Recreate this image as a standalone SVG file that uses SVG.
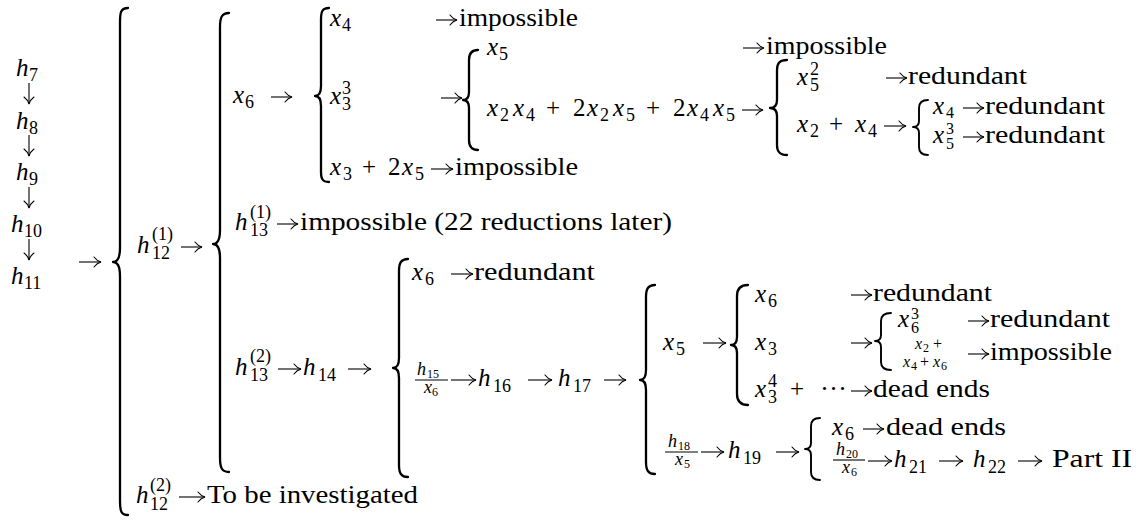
<svg xmlns="http://www.w3.org/2000/svg" width="1147" height="520" viewBox="0 0 1147 520">
<style>
.t{font-family:"Liberation Serif","Times New Roman","DejaVu Serif","Noto Serif",serif;font-size:25px;fill:#000}
.i{font-style:italic}
.s{font-size:18px}
.s2{font-size:16px}
.ss{font-size:12px}
.br{fill:none;stroke:#000;stroke-width:2.3;stroke-linecap:round;stroke-linejoin:round}
.bs{fill:none;stroke:#000;stroke-width:1.9;stroke-linecap:round;stroke-linejoin:round}
.bar{stroke:#000;stroke-width:1.1}
.ar{stroke:#000;stroke-width:1.1;fill:none;marker-end:url(#ah)}
</style>
<defs>
<marker id="ah" markerWidth="10" markerHeight="12" refX="8.5" refY="6" orient="auto" markerUnits="userSpaceOnUse">
<path d="M1.5,1 Q4.5,5 8.5,6 Q4.5,7 1.5,11" fill="none" stroke="#000" stroke-width="1.1" stroke-linecap="round"/>
</marker>
</defs>
<rect width="1147" height="520" fill="#fff"/>
<g id="connectors">
<path class="br" d="M128 8 C121 8 120 12 120 22 L120 248 C120 256 118 262 113 262 C118 262 120 268 120 276 L120 501 C120 511 121 515 128 515"/>
<path class="br" d="M229 13 C222 13 220 17 220 27 L220 230 C220 238 218 244 213 244 C218 244 220 250 220 258 L220 458 C220 468 222 472 229 472"/>
<path class="br" d="M329 8 C322 8 321 12 321 20 L321 86 C321 92 319 96 315 96 C319 96 321 100 321 106 L321 172 C321 178 322 182 329 182"/>
<path class="br" d="M478 50 C471 50 469 54 469 60 L469 92 C469 97 467 100 463 100 C467 100 469 103 469 108 L469 140 C469 146 471 150 478 150"/>
<path class="br" d="M787 60 C779 60 777 64 777 70 L777 100 C777 105 775 108 770 108 C775 108 777 111 777 116 L777 145 C777 151 779 155 787 155"/>
<path class="bs" d="M928 100 C921 100 919 103 919 108 L919 121 C919 125 917 127 913 127 C917 127 919 129 919 133 L919 147 C919 152 921 155 928 155"/>
<path class="br" d="M408 259 C401 259 399 263 399 271 L399 358 C399 364 397 368 393 368 C397 368 399 372 399 378 L399 465 C399 473 401 477 408 477"/>
<path class="br" d="M655 285 C648 285 646 289 646 297 L646 370 C646 376 644 380 640 380 C644 380 646 384 646 390 L646 462 C646 470 648 474 655 474"/>
<path class="br" d="M748 285 C740 285 737 289 737 296 L737 337 C737 342 735 345 731 345 C735 345 737 348 737 353 L737 394 C737 401 740 405 748 405"/>
<path class="bs" d="M891 313 C884 313 881 316 881 321 L881 335 C881 339 879 341 875 341 C879 341 881 343 881 347 L881 362 C881 367 884 370 891 370"/>
<path class="bs" d="M820 418 C813 418 811 421 811 426 L811 443 C811 447 809 449 805 449 C809 449 811 451 811 455 L811 472 C811 477 813 480 820 480"/>
<line class="ar" x1="29" y1="83" x2="29" y2="104"/>
<line class="ar" x1="29" y1="135" x2="29" y2="156"/>
<line class="ar" x1="29" y1="187" x2="29" y2="208"/>
<line class="ar" x1="29" y1="239" x2="29" y2="260"/>
<line class="ar" x1="79" y1="262" x2="101" y2="262"/>
<line class="ar" x1="181" y1="247" x2="202" y2="247"/>
<line class="ar" x1="271" y1="97" x2="292" y2="97"/>
<line class="ar" x1="436" y1="20" x2="457" y2="20"/>
<line class="ar" x1="441" y1="98" x2="462" y2="98"/>
<line class="ar" x1="743" y1="48" x2="764" y2="48"/>
<line class="ar" x1="742" y1="110" x2="763" y2="110"/>
<line class="ar" x1="886" y1="78" x2="907" y2="78"/>
<line class="ar" x1="884" y1="126" x2="906" y2="126"/>
<line class="ar" x1="963" y1="108" x2="984" y2="108"/>
<line class="ar" x1="963" y1="137" x2="984" y2="137"/>
<line class="ar" x1="431" y1="169" x2="453" y2="169"/>
<line class="ar" x1="277" y1="224" x2="298" y2="224"/>
<line class="ar" x1="278" y1="369" x2="301" y2="369"/>
<line class="ar" x1="348" y1="369" x2="371" y2="369"/>
<line class="ar" x1="451" y1="274" x2="473" y2="274"/>
<line class="ar" x1="451" y1="380" x2="476" y2="380"/>
<line class="ar" x1="528" y1="380" x2="552" y2="380"/>
<line class="ar" x1="604" y1="380" x2="626" y2="380"/>
<line class="ar" x1="703" y1="343" x2="726" y2="343"/>
<line class="ar" x1="851" y1="295" x2="872" y2="295"/>
<line class="ar" x1="851" y1="343" x2="872" y2="343"/>
<line class="ar" x1="968" y1="321" x2="989" y2="321"/>
<line class="ar" x1="968" y1="354" x2="989" y2="354"/>
<line class="ar" x1="851" y1="391" x2="872" y2="391"/>
<line class="ar" x1="701" y1="452" x2="724" y2="452"/>
<line class="ar" x1="776" y1="452" x2="799" y2="452"/>
<line class="ar" x1="863" y1="429" x2="884" y2="429"/>
<line class="ar" x1="868" y1="461" x2="892" y2="461"/>
<line class="ar" x1="939" y1="461" x2="963" y2="461"/>
<line class="ar" x1="1018" y1="461" x2="1042" y2="461"/>
<line class="ar" x1="179" y1="497" x2="205" y2="497"/>
</g>
<g id="chain">
<text class="t i" x="16" y="76">h</text><text class="t s" x="29" y="81">7</text>
<text class="t i" x="16" y="129">h</text><text class="t s" x="29" y="134">8</text>
<text class="t i" x="16" y="180">h</text><text class="t s" x="29" y="185">9</text>
<text class="t i" x="11" y="232">h</text><text class="t s" x="24" y="237">10</text>
<text class="t i" x="11" y="284">h</text><text class="t s" x="24" y="289">11</text>
</g>
<g id="h12-1">
<text class="t i" x="137" y="253">h</text><text class="t s" x="152" y="240">(1)</text><text class="t s" x="152" y="259">12</text>
</g>
<g id="x6-branch">
<text class="t i" x="233" y="103">x</text><text class="t s" x="245" y="108">6</text>
</g>
<g id="x4-row">
<text class="t i" x="330" y="26">x</text><text class="t s" x="342" y="31">4</text>
<text class="t" x="459" y="26" textLength="119" lengthAdjust="spacingAndGlyphs">impossible</text>
</g>
<g id="x33-row">
<text class="t i" x="330" y="104">x</text><text class="t s" x="342" y="94">3</text><text class="t s" x="342" y="110">3</text>
</g>
<g id="x5-row">
<text class="t i" x="487" y="55">x</text><text class="t s" x="499" y="60">5</text>
<text class="t" x="766" y="54" textLength="121" lengthAdjust="spacingAndGlyphs">impossible</text>
</g>
<g id="x2x4-row">
<text class="t i" x="487" y="116">x</text><text class="t s" x="500" y="121">2</text>
<text class="t i" x="513" y="116">x</text><text class="t s" x="526" y="121">4</text>
<text class="t" x="546" y="116">+</text>
<text class="t" x="573" y="116">2</text><text class="t i" x="587" y="116">x</text><text class="t s" x="600" y="121">2</text>
<text class="t i" x="613" y="116">x</text><text class="t s" x="626" y="121">5</text>
<text class="t" x="646" y="116">+</text>
<text class="t" x="673" y="116">2</text><text class="t i" x="687" y="116">x</text><text class="t s" x="700" y="121">4</text>
<text class="t i" x="713" y="116">x</text><text class="t s" x="726" y="121">5</text>
</g>
<g id="x52-row">
<text class="t i" x="797" y="85">x</text><text class="t s" x="810" y="75">2</text><text class="t s" x="810" y="91">5</text>
<text class="t" x="908" y="84" textLength="119" lengthAdjust="spacingAndGlyphs">redundant</text>
</g>
<g id="x2x4sum-row">
<text class="t i" x="797" y="132">x</text><text class="t s" x="810" y="137">2</text>
<text class="t" x="829" y="132">+</text>
<text class="t i" x="855" y="132">x</text><text class="t s" x="868" y="137">4</text>
</g>
<g id="x4-red">
<text class="t i" x="933" y="114">x</text><text class="t s2" x="946" y="118">4</text>
<text class="t" x="985" y="114" textLength="120" lengthAdjust="spacingAndGlyphs">redundant</text>
</g>
<g id="x53-red">
<text class="t i" x="933" y="143">x</text><text class="t s2" x="946" y="134">3</text><text class="t s2" x="946" y="149">5</text>
<text class="t" x="985" y="143" textLength="120" lengthAdjust="spacingAndGlyphs">redundant</text>
</g>
<g id="x3-2x5-row">
<text class="t i" x="330" y="175">x</text><text class="t s" x="343" y="180">3</text>
<text class="t" x="362" y="175">+</text>
<text class="t" x="388" y="175">2</text><text class="t i" x="402" y="175">x</text><text class="t s" x="415" y="180">5</text>
<text class="t" x="455" y="175" textLength="123" lengthAdjust="spacingAndGlyphs">impossible</text>
</g>
<g id="h13-1">
<text class="t i" x="235" y="230">h</text><text class="t s" x="250" y="218">(1)</text><text class="t s" x="250" y="236">13</text>
<text class="t" x="300" y="230" textLength="372" lengthAdjust="spacingAndGlyphs">impossible (22 reductions later)</text>
</g>
<g id="h13-2">
<text class="t i" x="235" y="375">h</text><text class="t s" x="250" y="362">(2)</text><text class="t s" x="250" y="381">13</text>
<text class="t i" x="303" y="375">h</text><text class="t s" x="318" y="381">14</text>
</g>
<g id="x6-redundant">
<text class="t i" x="412" y="280">x</text><text class="t s" x="425" y="285">6</text>
<text class="t" x="474" y="280" textLength="121" lengthAdjust="spacingAndGlyphs">redundant</text>
</g>
<g id="h15-row">
<text class="t i s" x="417" y="375">h</text><text class="t ss" x="427" y="378">15</text>
<line class="bar" x1="415" y1="380" x2="448" y2="380"/>
<text class="t i s" x="424" y="393">x</text><text class="t ss" x="432" y="396">6</text>
<text class="t i" x="478" y="386">h</text><text class="t s" x="493" y="392">16</text>
<text class="t i" x="558" y="386">h</text><text class="t s" x="573" y="392">17</text>
</g>
<g id="x5-branch">
<text class="t i" x="663" y="350">x</text><text class="t s" x="676" y="355">5</text>
</g>
<g id="x6-red2">
<text class="t i" x="755" y="302">x</text><text class="t s" x="768" y="307">6</text>
<text class="t" x="873" y="301" textLength="119" lengthAdjust="spacingAndGlyphs">redundant</text>
</g>
<g id="x3-branch">
<text class="t i" x="755" y="350">x</text><text class="t s" x="768" y="355">3</text>
</g>
<g id="x63-red">
<text class="t i" x="898" y="327">x</text><text class="t s2" x="911" y="319">3</text><text class="t s2" x="911" y="333">6</text>
<text class="t" x="990" y="327" textLength="120" lengthAdjust="spacingAndGlyphs">redundant</text>
</g>
<g id="sub-imp">
<text class="t i s2" x="915" y="349">x</text><text class="t ss" x="923" y="352">2</text><text class="t s2" x="933" y="349">+</text>
<text class="t i s2" x="903" y="367">x</text><text class="t ss" x="911" y="370">4</text><text class="t s2" x="920" y="367">+</text>
<text class="t i s2" x="933" y="367">x</text><text class="t ss" x="941" y="370">6</text>
<text class="t" x="990" y="360" textLength="122" lengthAdjust="spacingAndGlyphs">impossible</text>
</g>
<g id="x34-dead">
<text class="t i" x="755" y="397">x</text><text class="t s" x="768" y="387">4</text><text class="t s" x="768" y="403">3</text>
<text class="t" x="790" y="397">+</text>
<text class="t" x="820" y="397" textLength="27" lengthAdjust="spacingAndGlyphs">···</text>
<text class="t" x="873" y="397" textLength="117" lengthAdjust="spacingAndGlyphs">dead ends</text>
</g>
<g id="h18-row">
<text class="t i s" x="668" y="447">h</text><text class="t ss" x="678" y="450">18</text>
<line class="bar" x1="665" y1="452" x2="698" y2="452"/>
<text class="t i s" x="675" y="465">x</text><text class="t ss" x="684" y="468">5</text>
<text class="t i" x="728" y="458">h</text><text class="t s" x="743" y="464">19</text>
</g>
<g id="x6-dead">
<text class="t i" x="832" y="435">x</text><text class="t s" x="845" y="440">6</text>
<text class="t" x="886" y="435" textLength="120" lengthAdjust="spacingAndGlyphs">dead ends</text>
</g>
<g id="h20-row">
<text class="t i s" x="836" y="455">h</text><text class="t ss" x="846" y="458">20</text>
<line class="bar" x1="833" y1="460" x2="865" y2="460"/>
<text class="t i s" x="842" y="473">x</text><text class="t ss" x="851" y="476">6</text>
<text class="t i" x="894" y="467">h</text><text class="t s" x="909" y="473">21</text>
<text class="t i" x="973" y="467">h</text><text class="t s" x="988" y="473">22</text>
<text class="t" x="1052" y="467" textLength="80" lengthAdjust="spacingAndGlyphs">Part II</text>
</g>
<g id="h12-2">
<text class="t i" x="136" y="503">h</text><text class="t s" x="150" y="491">(2)</text><text class="t s" x="150" y="510">12</text>
<text class="t" x="207" y="503" textLength="211" lengthAdjust="spacingAndGlyphs">To be investigated</text>
</g>
</svg>
